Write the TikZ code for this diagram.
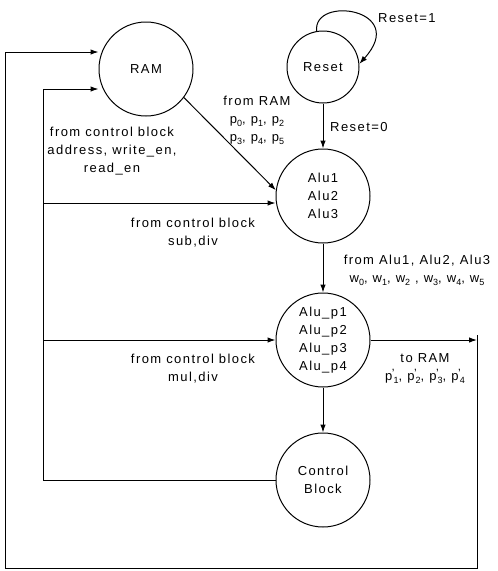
\documentclass[tikz,border=0pt]{standalone}
\usepackage{fontspec}
\setmainfont{Liberation Sans}[LetterSpace=11]
\usetikzlibrary{arrows.meta}
\newcommand\lsub[1]{\raisebox{-0.45ex}{\fontsize{9}{9}\selectfont #1}}
\newcommand\pp[1]{p\lsub{#1}}
\newcommand\pq[1]{p\kern-0.5pt\raisebox{0.55ex}{\fontsize{12}{12}\selectfont '}\kern-1pt\lsub{#1}}
\begin{document}
\begin{tikzpicture}[x=1pt,y=-1pt,
  state/.style={draw,circle,line width=1pt,minimum size=94pt,inner sep=0pt,align=center,font=\fontsize{13}{18}\selectfont},
  arr/.style={line width=1pt,-{Latex[length=8pt,width=5.5pt]}},
  wire/.style={line width=1pt},
  lab/.style={align=center,font=\fontsize{13}{18}\selectfont,inner sep=0pt}]
\useasboundingbox (0,0) rectangle (498,571);
\node[state] (ram) at (146,69) {RAM};
\node[state,minimum size=72pt] (reset) at (323,67) {Reset};
\node[state] (alu) at (323,196) {Alu1\\Alu2\\Alu3};
\node[state] (alup) at (323,340) {Alu\_p1\\Alu\_p2\\Alu\_p3\\Alu\_p4};
\node[state] (ctrl) at (323,480) {Control\\Block};

\coordinate (oTL) at (5,52);
\coordinate (oBL) at (5,568);
\coordinate (oBR) at (477,568);
\coordinate (oTR) at (477,335);
\coordinate (oR) at (477,340);
\coordinate (iT) at (43,89);
\coordinate (iA) at (43,203);
\coordinate (iB) at (43,340);
\coordinate (iC) at (43,480);

\draw[arr] (reset.100) .. controls +(-4,-36) and +(50,-55) .. (reset.5);
\draw[arr] (reset) -- (alu);
\draw[arr] (ram.-37) -- (alu.173);
\draw[arr] (alu) -- (alup);
\draw[arr] (alup) -- (ctrl);
\draw[arr] (alup.east) -- (oR);
\draw[arr] (oTR) -- (oBR) -- (oBL) -- (oTL) -- (oTL -| ram.west);
\draw[arr] (ctrl.west) -- (iC) -- (iT) -- (iT -| ram.west);
\draw[arr] (iA) -- (iA -| alu.west);
\draw[arr] (iB) -- (alup.west);

\node[lab] (l1) at (112,151) {from control block\\address, write\_en,\\read\_en};
\node[lab] (l2) at (257,120) {from RAM\\\pp0, \pp1, \pp2\\\pp3, \pp4, \pp5};
\node[lab] (l3) at (193,233) {from control block\\sub,div};
\node[lab] (l4) at (193,369) {from control block\\mul,div};
\node[lab,anchor=west] (l5) at (330,127) {Reset=0};
\node[lab,anchor=west] (l6) at (378,18) {Reset=1};
\node[lab] (l7) at (417,270) {from Alu1, Alu2, Alu3\\w\lsub0, w\lsub1, w\lsub2 , w\lsub3, w\lsub4, w\lsub5};
\node[lab] (l8) at (425,369) {to RAM\\\pq1, \pq2, \pq3, \pq4};
\end{tikzpicture}
\end{document}
